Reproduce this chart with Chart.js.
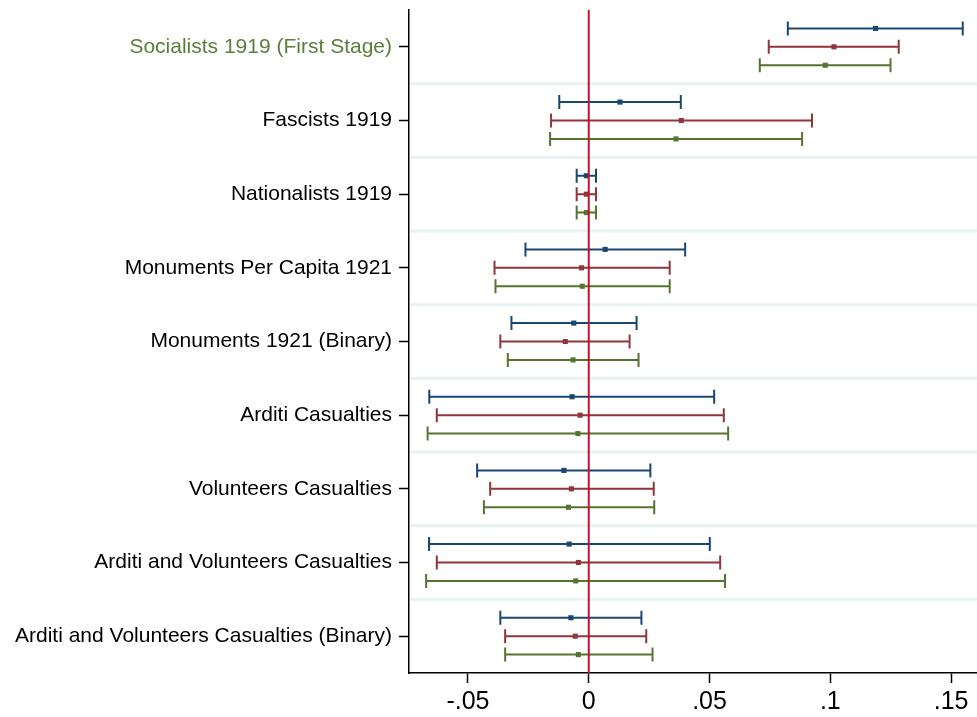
<!DOCTYPE html>
<html lang="en">
<head>
  <meta charset="UTF-8" />
  <title>Coefficient plot</title>
  <script src="https://cdn.jsdelivr.net/npm/chart.js"></script>
  <style>
    html, body {
      margin: 0;
      padding: 0;
      background: #fff;
    }
    .wrap {
      width: 977px;
      height: 717px;
      position: relative;
    }
  </style>
</head>
<body>
  <div class="wrap">
    <canvas id="coef"></canvas>
  </div>

  <script>
    // categories, top to bottom
    const categories = [
      'Socialists 1919 (First Stage)',
      'Fascists 1919',
      'Nationalists 1919',
      'Monuments Per Capita 1921',
      'Monuments 1921 (Binary)',
      'Arditi Casualties',
      'Volunteers Casualties',
      'Arditi and Volunteers Casualties',
      'Arditi and Volunteers Casualties (Binary)'
    ];

    // x axis ticks
    const xTicks = [-0.05, 0, 0.05, 0.1, 0.15];
    const xTickLabels = ['-.05', '0', '.05', '.1', '.15'];

    // series 1 (navy)
    const blueEst = [0.1187, 0.0129, -0.0010, 0.0068, -0.0062, -0.0069, -0.0103, -0.0081, -0.0074];
    const blueLo  = [0.0824, -0.0122, -0.0050, -0.0262, -0.0320, -0.0660, -0.0462, -0.0661, -0.0366];
    const blueHi  = [0.1548, 0.0381, 0.0030, 0.0399, 0.0198, 0.0519, 0.0255, 0.0501, 0.0218];

    // series 2 (maroon)
    const redEst = [0.1015, 0.0383, -0.0010, -0.0030, -0.0097, -0.0036, -0.0072, -0.0043, -0.0056];
    const redLo  = [0.0745, -0.0156, -0.0050, -0.0390, -0.0366, -0.0629, -0.0408, -0.0629, -0.0346];
    const redHi  = [0.1283, 0.0924, 0.0030, 0.0335, 0.0169, 0.0559, 0.0269, 0.0544, 0.0238];

    // series 3 (green)
    const greenEst = [0.0979, 0.0361, -0.0010, -0.0027, -0.0065, -0.0045, -0.0084, -0.0054, -0.0043];
    const greenLo  = [0.0708, -0.0160, -0.0050, -0.0386, -0.0335, -0.0667, -0.0434, -0.0673, -0.0346];
    const greenHi  = [0.1249, 0.0883, 0.0030, 0.0335, 0.0206, 0.0577, 0.0271, 0.0564, 0.0264];

    const series = [
      { est: blueEst,  lo: blueLo,  hi: blueHi,  color: '#1a476f', offset: -0.25 },
      { est: redEst,   lo: redLo,   hi: redHi,   color: '#90353b', offset: 0 },
      { est: greenEst, lo: greenLo, hi: greenHi, color: '#55752f', offset: 0.25 }
    ];

    const FONT = '"Liberation Sans", Arial, Helvetica, sans-serif';

    // keep the plot area where the reference has it
    const noPad = scale => {
      scale.paddingTop = 0;
      scale.paddingBottom = 0;
      scale.paddingLeft = 0;
      scale.paddingRight = 0;
    };

    // separators, whiskers and the zero line
    const coefPlugin = {
      id: 'coefPlugin',
      beforeDatasetsDraw(chart) {
        const { ctx, chartArea, scales } = chart;
        const x = scales.x, y = scales.y;
        ctx.save();
        // light band separators between categories
        ctx.strokeStyle = '#eaf2f3';
        ctx.lineWidth = 3;
        for (let i = 1; i < categories.length; i++) {
          const py = y.getPixelForValue(i + 0.5);
          ctx.beginPath();
          ctx.moveTo(chartArea.left + 1, py);
          ctx.lineTo(chartArea.right, py);
          ctx.stroke();
        }
        // confidence intervals
        ctx.lineWidth = 2;
        series.forEach(s => {
          ctx.strokeStyle = s.color;
          s.est.forEach((e, i) => {
            const py = y.getPixelForValue(i + 1 + s.offset);
            const x1 = x.getPixelForValue(s.lo[i]);
            const x2 = x.getPixelForValue(s.hi[i]);
            ctx.beginPath();
            ctx.moveTo(x1, py); ctx.lineTo(x2, py);
            ctx.moveTo(x1, py - 7); ctx.lineTo(x1, py + 7);
            ctx.moveTo(x2, py - 7); ctx.lineTo(x2, py + 7);
            ctx.stroke();
          });
        });
        ctx.restore();
      },
      afterDatasetsDraw(chart) {
        const { ctx, chartArea, scales } = chart;
        const px = scales.x.getPixelForValue(0);
        ctx.save();
        ctx.strokeStyle = '#c8102e';
        ctx.lineWidth = 2;
        ctx.beginPath();
        ctx.moveTo(px, chartArea.top);
        ctx.lineTo(px, chartArea.bottom);
        ctx.stroke();
        ctx.restore();
      }
    };

    new Chart(document.getElementById('coef'), {
      type: 'scatter',
      data: {
        datasets: series.map(s => ({
          data: s.est.map((e, i) => ({ x: e, y: i + 1 + s.offset })),
          backgroundColor: s.color,
          borderColor: s.color,
          pointStyle: 'rect',
          pointRadius: 3.6,
          borderWidth: 0
        }))
      },
      options: {
        responsive: true,
        maintainAspectRatio: false,
        animation: false,
        layout: {
          autoPadding: false,
          padding: { top: 10, right: 0, left: 0, bottom: 0 }
        },
        plugins: {
          legend: { display: false },
          tooltip: { enabled: false }
        },
        scales: {
          x: {
            type: 'linear',
            min: -0.0744,
            max: 0.1607,
            afterBuildTicks: scale => {
              scale.ticks = xTicks.map(v => ({ value: v }));
            },
            afterFit: scale => { scale.height = 44; noPad(scale); },
            ticks: {
              callback: (v) => xTickLabels[xTicks.indexOf(v)],
              color: '#000',
              font: { family: FONT, size: 25 },
              padding: 4,
              maxRotation: 0,
              autoSkip: false
            },
            grid: {
              drawOnChartArea: false,
              tickLength: 10,
              tickColor: '#000',
              tickWidth: 1.5
            },
            border: { color: '#000', width: 1.5 }
          },
          y: {
            type: 'linear',
            reverse: true,
            min: 0.5,
            max: 9.5,
            afterBuildTicks: scale => {
              scale.ticks = categories.map((c, i) => ({ value: i + 1 }));
            },
            afterFit: scale => { scale.width = 409; noPad(scale); },
            ticks: {
              callback: (v) => categories[v - 1],
              color: ctx => ctx.index === 0 ? '#5a7f3a' : '#000',
              font: { family: FONT, size: 21 },
              padding: 7,
              autoSkip: false
            },
            grid: {
              drawOnChartArea: false,
              tickLength: 10,
              tickColor: '#000',
              tickWidth: 1.5
            },
            border: { color: '#000', width: 1.5 }
          }
        }
      },
      plugins: [coefPlugin]
    });
  </script>
</body>
</html>
